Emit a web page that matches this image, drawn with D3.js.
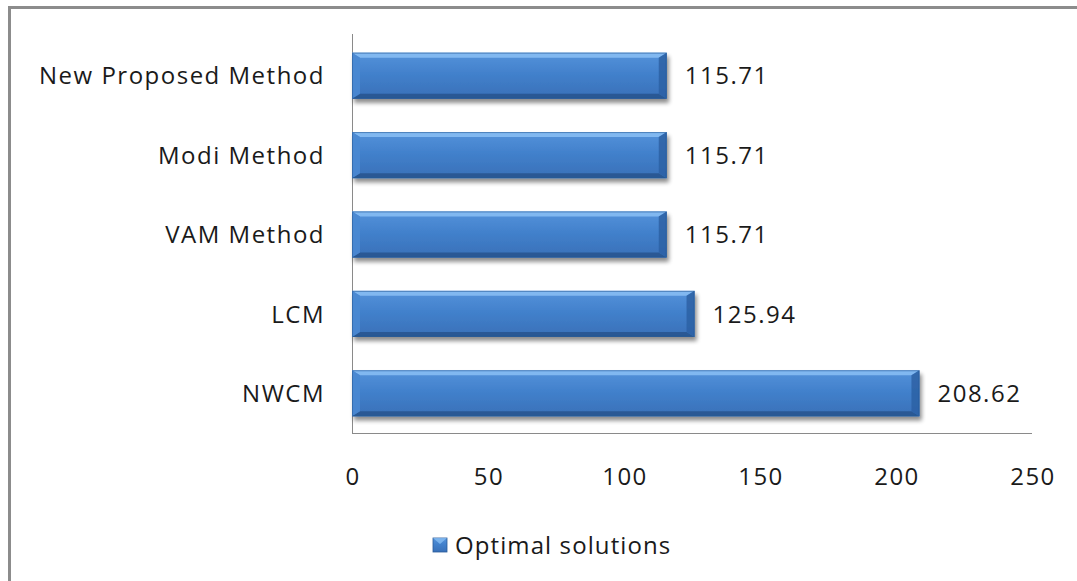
<!DOCTYPE html>
<html>
<head>
<meta charset="utf-8">
<script src="https://cdn.jsdelivr.net/npm/d3@7"></script>
<style>
  html, body { margin: 0; padding: 0; background: #fff; }
  svg { display: block; }
  text { font-family: "Open Sans", "DejaVu Sans", sans-serif; fill: #1a1a1a; letter-spacing: 1.5px; }
</style>
</head>
<body>
<svg id="chart" width="1077" height="581"></svg>
<script>
// Optimal transportation cost obtained by each method
const categories = ["New Proposed Method", "Modi Method", "VAM Method", "LCM", "NWCM"];
const values = [115.71, 115.71, 115.71, 125.94, 208.62];
const xTicks = [0, 50, 100, 150, 200, 250];
const seriesName = "Optimal solutions";

const svg = d3.select("#chart");
const W = 1077, H = 581;

// chart area frame (left and top edges visible)
svg.append("path")
  .attr("d", `M9.5,${H} V7.5 H${W}`)
  .attr("fill", "none")
  .attr("stroke", "#8c8c8c")
  .attr("stroke-width", 3);

const plot = { left: 352, right: 1032, top: 36, bottom: 433 };

const x = d3.scaleLinear().domain([0, 250]).range([plot.left, plot.right]);
const y = d3.scaleBand().domain(categories).range([plot.top, plot.bottom]).paddingInner(0.42).paddingOuter(0.21);

const defs = svg.append("defs");
const grad = defs.append("linearGradient").attr("id", "barFace").attr("x1", 0).attr("y1", 0).attr("x2", 0).attr("y2", 1);
grad.append("stop").attr("offset", "0%").attr("stop-color", "#5592da");
grad.append("stop").attr("offset", "45%").attr("stop-color", "#4281cc");
grad.append("stop").attr("offset", "100%").attr("stop-color", "#3970b8");

const shadow = defs.append("filter").attr("id", "barShadow").attr("x", "-5%").attr("y", "-20%").attr("width", "110%").attr("height", "160%");
shadow.append("feGaussianBlur").attr("in", "SourceAlpha").attr("stdDeviation", 2.2).attr("result", "b");
shadow.append("feOffset").attr("in", "b").attr("dx", 2).attr("dy", 4).attr("result", "o");
shadow.append("feComponentTransfer").attr("in", "o").attr("result", "s")
  .append("feFuncA").attr("type", "linear").attr("slope", 0.45);
const merge = shadow.append("feMerge");
merge.append("feMergeNode").attr("in", "s");
merge.append("feMergeNode").attr("in", "SourceGraphic");

// axes lines
svg.append("line")
  .attr("x1", plot.left + 0.5).attr("x2", plot.left + 0.5)
  .attr("y1", plot.top - 2).attr("y2", plot.bottom)
  .attr("stroke", "#8a8a8a").attr("stroke-width", 1);
svg.append("line")
  .attr("x1", plot.left).attr("x2", plot.right)
  .attr("y1", plot.bottom + 0.5).attr("y2", plot.bottom + 0.5)
  .attr("stroke", "#8a8a8a").attr("stroke-width", 1);

// bevelled bars
const bx = 8, by = 5;
const bars = svg.append("g").selectAll("g").data(categories).join("g")
  .attr("filter", "url(#barShadow)");

bars.each(function(c, i) {
  const g = d3.select(this);
  const x0 = x(0), x1 = x(values[i]);
  const y0 = y(c), h = y.bandwidth(), y1 = y0 + h;
  g.append("rect").attr("x", x0).attr("y", y0).attr("width", x1 - x0).attr("height", h).attr("fill", "url(#barFace)");
  // top bevel
  g.append("path").attr("d", `M${x0},${y0} H${x1} L${x1 - bx},${y0 + by} H${x0 + bx} Z`).attr("fill", "#86bdf3").attr("opacity", 0.9);
  // bottom bevel
  g.append("path").attr("d", `M${x0},${y1} H${x1} L${x1 - bx},${y1 - by} H${x0 + bx} Z`).attr("fill", "#285690").attr("opacity", 0.9);
  // left bevel
  g.append("path").attr("d", `M${x0},${y0} L${x0 + bx},${y0 + by} V${y1 - by} L${x0},${y1} Z`).attr("fill", "#4a88d2").attr("opacity", 0.9);
  // right bevel
  g.append("path").attr("d", `M${x1},${y0} L${x1 - bx},${y0 + by} V${y1 - by} L${x1},${y1} Z`).attr("fill", "#2e63a6").attr("opacity", 0.9);
  g.append("rect").attr("x", x0 + 0.5).attr("y", y0 + 0.5).attr("width", x1 - x0 - 1).attr("height", h - 1)
    .attr("fill", "none").attr("stroke", "#2a5b98").attr("stroke-width", 1).attr("opacity", 0.6);
});

// value labels
svg.append("g").selectAll("text").data(categories).join("text")
  .attr("x", (c, i) => x(values[i]) + 18)
  .attr("y", c => y(c) + y.bandwidth() / 2)
  .attr("dy", "0.36em")
  .attr("font-size", 24)
  .text((c, i) => values[i].toFixed(2));

// category labels
svg.append("g").selectAll("text").data(categories).join("text")
  .attr("x", plot.left - 27)
  .attr("y", c => y(c) + y.bandwidth() / 2)
  .attr("dy", "0.36em")
  .attr("text-anchor", "end")
  .attr("font-size", 24)
  .text(c => c);

// x tick labels
svg.append("g").selectAll("text").data(xTicks).join("text")
  .attr("x", d => x(d) + 1)
  .attr("y", 476)
  .attr("dy", "0.36em")
  .attr("text-anchor", "middle")
  .attr("font-size", 24)
  .text(d => d);

// legend
const lg = svg.append("g").attr("transform", "translate(433,538)");
lg.append("rect").attr("width", 14).attr("height", 14).attr("fill", "url(#barFace)").attr("stroke", "#2a5b98").attr("stroke-width", 0.8);
lg.append("path").attr("d", "M0,0 H14 L7,6 Z").attr("fill", "#86bdf3").attr("opacity", 0.8);
lg.append("text").attr("x", 22).attr("y", 7).attr("dy", "0.36em").attr("font-size", 24)
  .style("letter-spacing", "1.1px").text(seriesName);
</script>
</body>
</html>
